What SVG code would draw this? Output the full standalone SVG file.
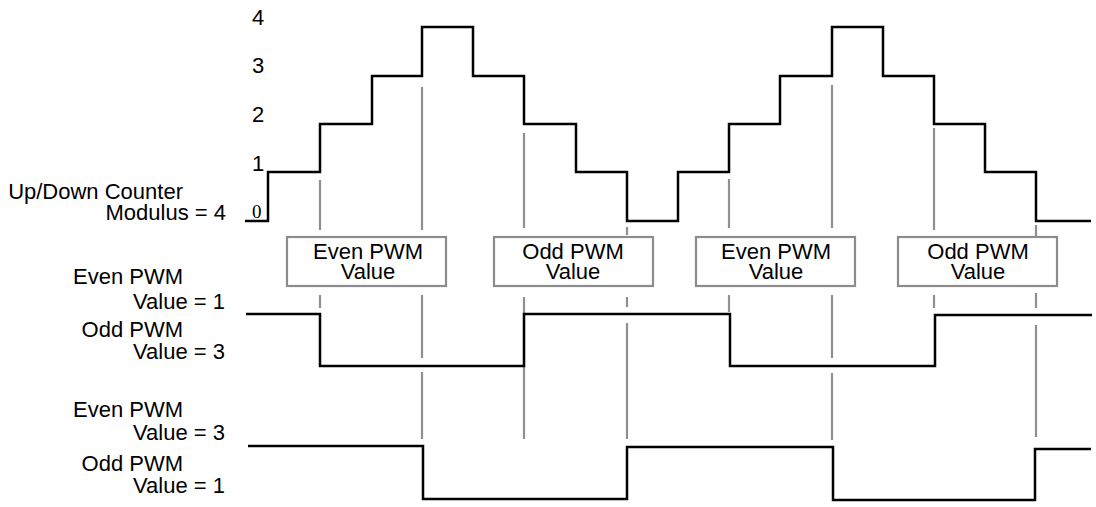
<svg xmlns="http://www.w3.org/2000/svg" width="1096" height="507" viewBox="0 0 1096 507">
<style>
  .t { font-family: "Liberation Sans", Arial, Helvetica, sans-serif; font-size: 22px; fill: #000; }
  .r { text-anchor: end; }
  .c { text-anchor: middle; }
  .z { font-family: "Liberation Serif", "Times New Roman", serif; font-size: 19px; fill: #000; }
  .wave { fill: none; stroke: #000; stroke-width: 2.5; stroke-linejoin: miter; }
  .guide { fill: none; stroke: #8f8f8f; stroke-width: 2.2; }
  .box rect { fill: #fff; stroke: #8c8c8c; stroke-width: 2.2; }
</style>
<rect width="1096" height="507" fill="#fff"/>

<g id="labels">
  <text class="t" x="252" y="25">4</text>
  <text class="t" x="252" y="73">3</text>
  <text class="t" x="252" y="122">2</text>
  <text class="t" x="252" y="171">1</text>
  <text class="z" x="252" y="218">0</text>
  <text class="t r" x="183" y="199">Up/Down Counter</text>
  <text class="t r" x="226" y="220">Modulus = 4</text>
  <text class="t r" x="183" y="284">Even PWM</text>
  <text class="t r" x="225" y="309">Value = 1</text>
  <text class="t r" x="183" y="337">Odd PWM</text>
  <text class="t r" x="225" y="359">Value = 3</text>
  <text class="t r" x="183" y="417">Even PWM</text>
  <text class="t r" x="225" y="440">Value = 3</text>
  <text class="t r" x="183" y="471">Odd PWM</text>
  <text class="t r" x="225" y="493">Value = 1</text>
</g>

<g id="connectors" class="guide">
  <path d="M320,180V230M320,295V308"/>
  <path d="M422,87V230M422,295V358M422,372V439"/>
  <path d="M524,133V228M524,297V439"/>
  <path d="M627,227V235M627,297V307M627,323V439"/>
  <path d="M729,179V228M729,295V312"/>
  <path d="M832,85V228M832,295V358M832,373V440"/>
  <path d="M934,128V230M934,295V308"/>
  <path d="M1036,225V237M1036,293V308M1036,325V437"/>
</g>

<g id="box-even-1" class="box">
  <rect x="287" y="237" width="159" height="49"/>
  <text class="t c" x="368" y="259">Even PWM</text>
  <text class="t c" x="368" y="279">Value</text>
</g>
<g id="box-odd-1" class="box">
  <rect x="494" y="237" width="159" height="49"/>
  <text class="t c" x="573" y="259">Odd PWM</text>
  <text class="t c" x="573" y="279">Value</text>
</g>
<g id="box-even-2" class="box">
  <rect x="696" y="237" width="159" height="49"/>
  <text class="t c" x="776" y="259">Even PWM</text>
  <text class="t c" x="776" y="279">Value</text>
</g>
<g id="box-odd-2" class="box">
  <rect x="898" y="237" width="159" height="49"/>
  <text class="t c" x="978" y="259">Odd PWM</text>
  <text class="t c" x="978" y="279">Value</text>
</g>

<g id="waveforms" class="wave">
  <path id="counter" d="M245,221H268V172H320V124H372V76H422V27H473V76H524V124H576V172H627V221H678V172H729V124H780V76H832V27H883V76H934V124H985V172H1036V221H1091"/>
  <path id="pwm-a" d="M246,314H320V366H524V314H730V366H935V315H1092"/>
  <path id="pwm-b" d="M248,446H423V499H627V447H833V500H1035V449H1091"/>
</g>
</svg>
